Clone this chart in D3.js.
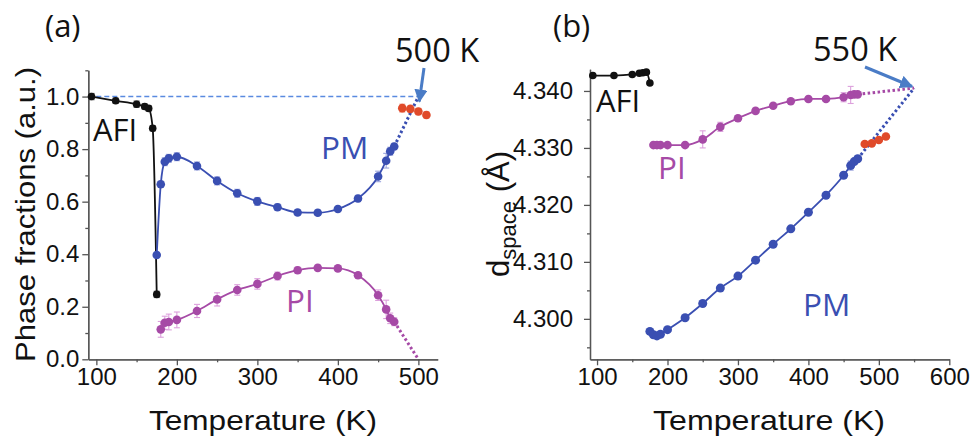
<!DOCTYPE html>
<html><head><meta charset="utf-8">
<script src="https://cdn.jsdelivr.net/npm/d3@7"></script>
<style>body{margin:0;background:#fff}svg{display:block}</style></head>
<body><svg id="c" width="971" height="438"></svg>
<script>
// ---------- Panel (a): phase fractions ----------
const afiT_a = [94,124,150,160,165,170,175];
const afiV_a = [1.0,0.984,0.971,0.962,0.955,0.879,0.247];
const afiE_a = [0.012,0.01,0.012,0.01,0.01,0.01,0.012];
const pmT_a = [175,180,185,190,200,225,250,275,300,325,350,375,400,425,450,460,465,470];
const pmV_a = [0.397,0.666,0.752,0.765,0.771,0.736,0.679,0.632,0.601,0.579,0.559,0.558,0.572,0.612,0.696,0.756,0.792,0.810];
const pmE_a = [0.01,0.012,0.015,0.015,0.015,0.015,0.015,0.015,0.015,0.012,0.01,0.01,0.01,0.012,0.02,0.028,0.015,0.012];
const piT_a = [180,185,190,200,225,250,275,300,325,350,375,400,425,450,460,465,470];
const piV_a = [0.114,0.139,0.142,0.150,0.184,0.228,0.264,0.287,0.317,0.339,0.348,0.346,0.320,0.244,0.190,0.156,0.143];
const piE_a = [0.03,0.025,0.03,0.03,0.025,0.025,0.02,0.02,0.015,0.012,0.01,0.01,0.01,0.02,0.035,0.02,0.015];
const redT_a = [480,490,500,510];
const redV_a = [0.956,0.953,0.943,0.930];
const redE_a = [0.015,0.012,0.012,0.012];
const pmExtT_a = [470,500], pmExtV_a = [0.810,1.0];
const piExtT_a = [470,500], piExtV_a = [0.143,0.0];
const xTicksA = [100,200,300,400,500], xMinorA = [150,250,350,450];
const yTicksA = [0,0.2,0.4,0.6,0.8,1.0], yMinorA = [0.1,0.3,0.5,0.7,0.9,1.1];

// ---------- Panel (b): d-spacing ----------
const afiT_b = [94,124,150,160,165,170,175];
const afiV_b = [4.3427,4.3427,4.3429,4.3431,4.3432,4.3433,4.3414];
const piT_b = [180,185,190,200,225,250,275,300,325,350,375,400,425,450,460,465,470];
const piV_b = [4.3305,4.3305,4.3305,4.3305,4.3305,4.3315,4.3337,4.3352,4.3365,4.3374,4.3382,4.3386,4.3386,4.3389,4.3393,4.3394,4.3394];
const piE_b = [0,0,0,0,0,0.0015,0.0008,0.0005,0.0003,0.0002,0.0002,0.0002,0.0002,0.0008,0.0015,0.0003,0.0002];
const pmT_b = [175,180,185,190,200,225,250,275,300,325,350,375,400,425,450,460,465,470];
const pmV_b = [4.2978,4.2972,4.2970,4.2973,4.2981,4.3002,4.3027,4.3054,4.3075,4.3103,4.3131,4.3158,4.3187,4.3217,4.3252,4.3269,4.3276,4.3281];
const pmE_b = [0,0,0,0,0,0,0,0,0,0,0,0,0,0,0.0005,0.0008,0.0003,0.0002];
const redT_b = [480,490,500,510];
const redV_b = [4.3307,4.3308,4.3314,4.3320];
const pmExtT_b = [470,550], pmExtV_b = [4.3281,4.3405];
const piExtT_b = [470,550], piExtV_b = [4.3394,4.3405];
const xTicksB = [100,200,300,400,500,600], xMinorB = [150,250,350,450,550];
const yTicksB = [4.300,4.310,4.320,4.330,4.340], yMinorB = [4.295,4.305,4.315,4.325,4.335];

const C = {black:"#111", blue:"#3a4fb2", blueErr:"#9aa3dc", mag:"#a64aa6", magErr:"#dca0dc",
           red:"#e04a2a", redErr:"#f0a090", arrow:"#4a7cc6", dash:"#5a8ae0", axis:"#555"};
const tickFont = "'Liberation Sans', Arial, sans-serif";
const lblFont = "'Open Sans', sans-serif";

const svg = d3.select("#c");
const zip = (T,V,E) => T.map((t,i)=>({t, v:V[i], e:E?E[i]:0}));

function axes(g, x, y, xt, xm, yt, ym, yfmt, ypad){
  const ax = d3.axisBottom(x).tickValues(xt).tickSize(6).tickSizeOuter(0).tickPadding(3);
  const axm = d3.axisBottom(x).tickValues(xm).tickSize(3).tickSizeOuter(0).tickFormat("");
  const ay = d3.axisLeft(y).tickValues(yt).tickSize(6).tickSizeOuter(0).tickPadding(ypad).tickFormat(d3.format(yfmt));
  const aym = d3.axisLeft(y).tickValues(ym).tickSize(3).tickSizeOuter(0).tickFormat("");
  const y0 = y.range()[0], x0 = x.range()[0];
  [[ax,"translate(0,"+y0+")"],[axm,"translate(0,"+y0+")"],[ay,"translate("+x0+",0)"],[aym,"translate("+x0+",0)"]].forEach(([a,tr])=>{
    const s = g.append("g").attr("transform",tr).call(a);
    s.selectAll("path,line").attr("stroke",C.axis).attr("stroke-width",1.3);
    s.selectAll("text").attr("font-family",tickFont).attr("font-size",24).attr("fill","#111");
  });
}

function series(g, x, y, data, color, errColor, r, curve){
  if (errColor){
    const eb = g.append("g").attr("stroke",errColor).attr("stroke-width",1.1);
    data.filter(d=>d.e>0).forEach(d=>{
      const cx = x(d.t);
      eb.append("line").attr("x1",cx).attr("x2",cx).attr("y1",y(d.v-d.e)).attr("y2",y(d.v+d.e));
      eb.append("line").attr("x1",cx-3).attr("x2",cx+3).attr("y1",y(d.v-d.e)).attr("y2",y(d.v-d.e));
      eb.append("line").attr("x1",cx-3).attr("x2",cx+3).attr("y1",y(d.v+d.e)).attr("y2",y(d.v+d.e));
    });
  }
  if (curve){
    g.append("path").datum(data).attr("fill","none").attr("stroke",color).attr("stroke-width",1.8)
      .attr("d", d3.line().x(d=>x(d.t)).y(d=>y(d.v)).curve(curve));
  }
  g.selectAll(null).data(data).join("circle").attr("cx",d=>x(d.t)).attr("cy",d=>y(d.v)).attr("r",r).attr("fill",color);
}

function dotted(g, x, y, T, V, color){
  g.append("path").datum(zip(T,V)).attr("fill","none").attr("stroke",color).attr("stroke-width",3)
    .attr("stroke-dasharray","2.5,2.5").attr("d", d3.line().x(d=>x(d.t)).y(d=>y(d.v)));
}

function label(g, x, y, txt, size, color, anchor){
  return g.append("text").attr("x",x).attr("y",y).attr("font-family",lblFont).attr("font-size",size)
    .attr("fill",color).attr("text-anchor",anchor||"start").text(txt);
}

// arrow marker
svg.append("defs").append("marker").attr("id","ah").attr("viewBox","0 0 10 10").attr("refX",9).attr("refY",5)
  .attr("markerWidth",4.4).attr("markerHeight",4.4).attr("orient","auto")
  .append("path").attr("d","M0,0 L10,5 L0,10 z").attr("fill",C.arrow);

// ===== Panel (a) =====
const xa = d3.scaleLinear([90,524],[88.3,437.7]);
const ya = d3.scaleLinear([0,1.1],[359.3,70.3]);
const ga = svg.append("g");
axes(ga, xa, ya, xTicksA, xMinorA, yTicksA, yMinorA, ".1f", 3);
ga.append("line").attr("x1",xa.range()[0]).attr("x2",xa(500)).attr("y1",ya(1)).attr("y2",ya(1))
  .attr("stroke",C.dash).attr("stroke-width",1.4).attr("stroke-dasharray","5,3");
dotted(ga, xa, ya, pmExtT_a, pmExtV_a, C.blue);
dotted(ga, xa, ya, piExtT_a, piExtV_a, C.mag);
series(ga, xa, ya, zip(afiT_a,afiV_a,afiE_a), C.black, "#666", 3.8, d3.curveMonotoneX);
series(ga, xa, ya, zip(piT_a,piV_a,piE_a), C.mag, C.magErr, 4.3, d3.curveMonotoneX);
series(ga, xa, ya, zip(pmT_a,pmV_a,pmE_a), C.blue, C.blueErr, 4.3, d3.curveMonotoneX);
series(ga, xa, ya, zip(redT_a,redV_a,redE_a), C.red, C.redErr, 4.3, null);
ga.append("line").attr("x1",424).attr("y1",68).attr("x2",419.3).attr("y2",101.5)
  .attr("stroke",C.arrow).attr("stroke-width",3).attr("marker-end","url(#ah)");
label(ga, 45, 37, "(a)", 31, "#111");
label(ga, 395, 62, "500 K", 32.5, "#111");
label(ga, 93, 140.5, "AFI", 31, "#111");
label(ga, 321, 158.5, "PM", 31.5, C.blue);
label(ga, 286, 312, "PI", 31.5, C.mag);
ga.append("text").attr("x",263).attr("y",430).attr("text-anchor","middle").attr("font-family",tickFont)
  .attr("font-size",28).attr("textLength",228).attr("lengthAdjust","spacingAndGlyphs").attr("fill","#111").text("Temperature (K)");
ga.append("text").attr("transform","translate(35,214.5) rotate(-90)").attr("text-anchor","middle").attr("font-family",tickFont)
  .attr("font-size",28).attr("textLength",295).attr("lengthAdjust","spacingAndGlyphs").attr("fill","#111").text("Phase fractions (a.u.)");

// ===== Panel (b) =====
const xb = d3.scaleLinear([90,600],[590,949.3]);
const yb = d3.scaleLinear([4.2929,4.3438],[359.3,69.3]);
const gb = svg.append("g");
axes(gb, xb, yb, xTicksB, xMinorB, yTicksB, yMinorB, ".3f", 11);
dotted(gb, xb, yb, pmExtT_b, pmExtV_b, C.blue);
dotted(gb, xb, yb, piExtT_b, piExtV_b, C.mag);
series(gb, xb, yb, zip(afiT_b,afiV_b), C.black, null, 3.8, d3.curveMonotoneX);
series(gb, xb, yb, zip(piT_b,piV_b,piE_b), C.mag, C.magErr, 4.3, d3.curveMonotoneX);
series(gb, xb, yb, zip(pmT_b,pmV_b,pmE_b), C.blue, C.blueErr, 4.5, d3.curveMonotoneX);
series(gb, xb, yb, zip(redT_b,redV_b), C.red, null, 4.3, null);
gb.append("line").attr("x1",865).attr("y1",67).attr("x2",912).attr("y2",86.5)
  .attr("stroke",C.arrow).attr("stroke-width",3).attr("marker-end","url(#ah)");
label(gb, 553, 37, "(b)", 31, "#111");
label(gb, 813, 61, "550 K", 32.5, "#111");
label(gb, 596, 112, "AFI", 31, "#111");
label(gb, 658, 178.5, "PI", 31.5, C.mag);
label(gb, 803, 315.5, "PM", 31.5, C.blue);
gb.append("text").attr("x",769).attr("y",430).attr("text-anchor","middle").attr("font-family",tickFont)
  .attr("font-size",28).attr("textLength",232).attr("lengthAdjust","spacingAndGlyphs").attr("fill","#111").text("Temperature (K)");
const yl = gb.append("text").attr("transform","translate(509,214) rotate(-90)").attr("text-anchor","middle")
  .attr("font-family",tickFont).attr("font-size",31).attr("fill","#111");
yl.append("tspan").text("d");
yl.append("tspan").attr("font-size",22).attr("dy",7).text("space");
yl.append("tspan").attr("dy",-7).text(" (Å)");
</script></body></html>
